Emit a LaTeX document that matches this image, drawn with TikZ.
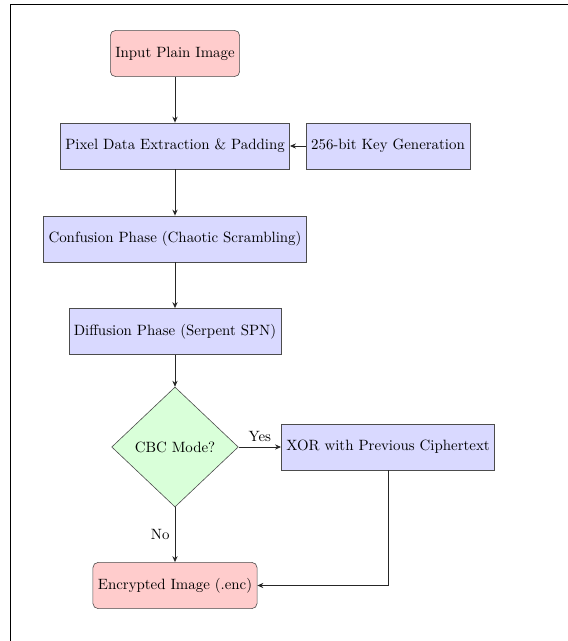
\documentclass[tikz,border=0pt]{standalone}
\usepackage{tikz}
\usetikzlibrary{shapes.geometric, arrows.meta}

\begin{document}
\begin{tikzpicture}[x=0.6711pt, y=-0.6711pt,
		io/.style={rectangle, rounded corners=3.5pt, draw=black!70, fill=red!20, minimum height=31pt},
		process/.style={rectangle, draw=black!70, fill=blue!15, minimum height=31pt},
		decision/.style={diamond, draw=black!70, fill=green!15, inner sep=0pt, minimum width=85pt, minimum height=80.5pt},
		arrow/.style={semithick, draw=black!85, -{Stealth[length=4pt, width=3.5pt]}}]
			\def\cx{175};
			\def\rx{388};

			\useasboundingbox (0,0) rectangle (568,641);
			\draw [line width=1.1pt] (568,4.5) -- (10.5,4.5) -- (10.5,641);

			\begin{scope}
				\node [io] (input) at (\cx,53.5) {Input Plain Image};
				\node [process] (pixel) at (\cx,146) {Pixel Data Extraction \& Padding};
				\node [process] (key) at (\rx,146) {256-bit Key Generation};
				\node [process] (confusion) at (\cx,239) {Confusion Phase (Chaotic Scrambling)};
				\node [process] (diffusion) at (\cx,331.5) {Diffusion Phase (Serpent SPN)};
				\node [decision] (cbc) at (\cx,447) {CBC Mode?};
				\node [process] (xor) at (\rx,447) {XOR with Previous Ciphertext};
				\node [io] (output) at (\cx,585.5) {Encrypted Image (.enc)};
			\end{scope}

			\begin{scope}[arrow]
				\draw (input) -- (pixel);
				\draw (key) -- (pixel);
				\draw (pixel) -- (confusion);
				\draw (confusion) -- (diffusion);
				\draw (diffusion) -- (cbc);
				\draw (cbc) -- (xor) node [midway, above] {Yes};
				\draw (cbc) -- (output) node [midway, left] {No};
				\draw (xor) |- (output);
			\end{scope}
		\end{tikzpicture}
\end{document}
